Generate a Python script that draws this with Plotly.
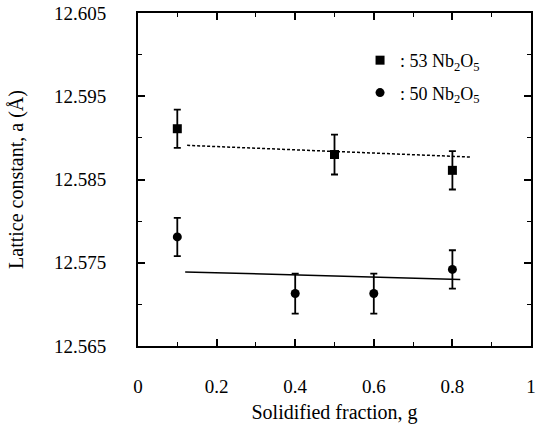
import plotly.graph_objects as go

# Data
g_53 = [0.1, 0.5, 0.8]
a_53 = [12.5911, 12.5880, 12.5861]
err_53 = [0.0023, 0.0024, 0.0023]

g_50 = [0.1, 0.4, 0.6, 0.8]
a_50 = [12.5781, 12.5713, 12.5713, 12.5742]
err_50 = [0.0023, 0.0024, 0.0024, 0.0023]

fit53_x = [0.125, 0.845]
fit53_y = [12.5891, 12.5877]
fit50_x = [0.12, 0.82]
fit50_y = [12.5739, 12.5730]

x_ticks = [0, 0.2, 0.4, 0.6, 0.8, 1]
x_ticktext = ["0", "0.2", "0.4", "0.6", "0.8", "1"]
y_ticks = [12.565, 12.575, 12.585, 12.595, 12.605]
y_ticktext = ["12.565", "12.575", "12.585", "12.595", "12.605"]

FONT = "Liberation Serif"

fig = go.Figure()

fig.add_trace(go.Scatter(x=fit53_x, y=fit53_y, mode="lines",
                         line=dict(color="black", width=1.5, dash="3px,2px"),
                         showlegend=False, hoverinfo="skip"))
fig.add_trace(go.Scatter(x=fit50_x, y=fit50_y, mode="lines",
                         line=dict(color="black", width=1.5),
                         showlegend=False, hoverinfo="skip"))

fig.add_trace(go.Scatter(x=g_53, y=a_53, mode="markers",
                         name=": 53 Nb<sub>2</sub>O<sub>5</sub>", legendgroup="a",
                         marker=dict(symbol="square", size=9, color="black"),
                         error_y=dict(type="data", array=err_53, color="black",
                                      thickness=1.8, width=3.5)))
fig.add_trace(go.Scatter(x=g_50, y=a_50, mode="markers",
                         name=": 50 Nb<sub>2</sub>O<sub>5</sub>", legendgroup="b",
                         marker=dict(symbol="circle", size=9, color="black"),
                         error_y=dict(type="data", array=err_50, color="black",
                                      thickness=1.8, width=3.5)))

axis_common = dict(showline=True, linecolor="black", linewidth=2, mirror="ticks",
                   ticks="inside", tickcolor="black", tickwidth=1.5, ticklen=7,
                   showgrid=False, zeroline=False, automargin=False,
                   ticklabeloverflow="allow",
                   tickfont=dict(family=FONT, size=19, color="black"),
                   title_font=dict(family=FONT, size=20, color="black"))

fig.update_xaxes(range=[0, 1], tickvals=x_ticks, ticktext=x_ticktext,
                 minor=dict(dtick=0.1, ticks="inside", ticklen=4, tickcolor="black", tickwidth=1.2),
                 title_text="Solidified fraction, g", title_standoff=9,
                 ticklabelstandoff=22, **axis_common)
fig.update_yaxes(range=[12.565, 12.605], tickvals=y_ticks, ticktext=y_ticktext,
                 minor=dict(dtick=0.005, tick0=12.565, ticks="inside", ticklen=4, tickcolor="black", tickwidth=1.2),
                 title_text="Lattice constant, a (Å)", title_standoff=25,
                 ticklabelstandoff=26, **axis_common)

fig.update_layout(
    width=544, height=431,
    margin=dict(l=138, r=13, t=13, b=85),
    plot_bgcolor="white", paper_bgcolor="white",
    font=dict(family=FONT, size=18, color="black"),
    legend=dict(x=0.565, y=0.913, xanchor="left", yanchor="top",
                bgcolor="rgba(0,0,0,0)", traceorder="grouped", tracegroupgap=6,
                itemwidth=30, font=dict(family=FONT, size=18, color="black")),
)

# Remove the default 8px page margin so the figure fills the window exactly
fig.write_html("out.html",
               config={"displayModeBar": False},
               post_script="document.body.style.margin='0';document.body.style.overflow='hidden';")
